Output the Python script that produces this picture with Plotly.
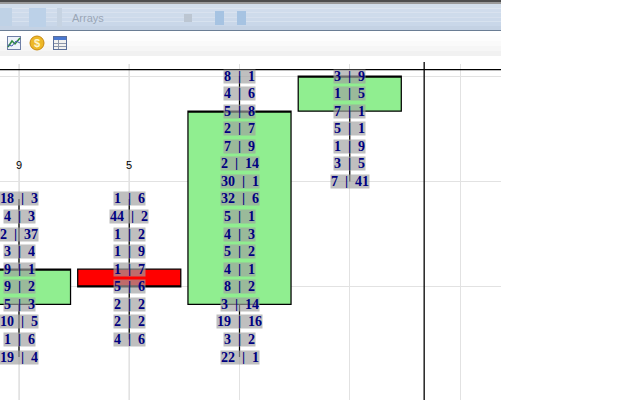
import plotly.graph_objects as go

# ---- data ----
bar_index = [0, 1, 2, 3]
opens = [3, 5, 3, 14]
closes = [5, 4, 14, 16]
highs = [9, 9, 16, 16]
lows = [0, 1, 0, 10]

top_levels = [9, 9, 16, 16]
bid_ask = [
    [(18, 3), (4, 3), (2, 37), (3, 4), (9, 1), (9, 2), (5, 3), (10, 5), (1, 6), (19, 4)],
    [(1, 6), (44, 2), (1, 2), (1, 9), (1, 7), (5, 6), (2, 2), (2, 2), (4, 6)],
    [(8, 1), (4, 6), (5, 8), (2, 7), (7, 9), (2, 14), (30, 1), (32, 6), (5, 1), (4, 3),
     (5, 2), (4, 1), (8, 2), (3, 14), (19, 16), (3, 2), (22, 1)],
    [(3, 9), (1, 5), (7, 1), (5, 1), (1, 9), (3, 5), (7, 41)],
]
count_labels = ["9", "5"]
count_level = 10.93
cross_x = 3.675
cross_y = 16.37
x_grid = [0, 1, 2, 3, 4]
y_grid = [4, 10, 16]

# ---- canvas ----
W, H = 640, 400
PL, PT, PR = 501, 64, 139


def px(x):
    return x / PL


def py(y):
    return (H - y) / (H - PT)


def rect(x0, y0, x1, y1, color):
    return dict(type="rect", xref="paper", yref="paper", x0=px(x0), x1=px(x1),
                y0=py(y0), y1=py(y1), fillcolor=color, line_width=0, layer="below")


def poly(points, color, width=1):
    d = "M" + " L".join(f"{px(a):.5f},{py(b):.5f}" for a, b in points)
    return dict(type="path", xref="paper", yref="paper", path=d,
                line=dict(color=color, width=width), layer="below")


fig = go.Figure()
fig.add_trace(go.Candlestick(
    x=bar_index, open=opens, high=highs, low=lows, close=closes,
    increasing=dict(fillcolor="#90ee90", line=dict(color="black", width=1.25)),
    decreasing=dict(fillcolor="#ff0000", line=dict(color="black", width=1.25)),
    whiskerwidth=0, hoverinfo="skip", showlegend=False,
))

ann = []
for i, rows in enumerate(bid_ask):
    for j, (b, a) in enumerate(rows):
        ann.append(dict(
            x=bar_index[i], y=top_levels[i] - j, xref="x", yref="y", showarrow=False,
            text=f"<b>{b}\u00a0\u00a0|\u00a0\u00a0{a}</b>",
            font=dict(family="Liberation Serif", size=14, color="#000080"),
            bgcolor="rgba(160,160,160,0.67)", borderpad=0, height=13,
        ))
for i, t in enumerate(count_labels):
    ann.append(dict(x=bar_index[i], y=count_level, xref="x", yref="y", showarrow=False,
                    text=t, font=dict(family="Liberation Sans", size=11, color="black")))

shapes = []
# window chrome
shapes.append(rect(0, 0, PL, 2, "#4d4d4d"))
shapes.append(rect(0, 2, PL, 4, "#9a9a9a"))
for k, c in enumerate(["#d2deeb", "#d0dcec", "#cedbeb", "#ccd9ea", "#c9d7e9", "#c4d2e4"]):
    shapes.append(rect(0, 4 + k * 4.4, PL, 4 + (k + 1) * 4.4, c))
shapes.append(rect(0, 30, PL, 31, "#6a7d94"))
for k, c in enumerate(["#ffffff", "#fdfdfd", "#fafafa", "#f6f6f6", "#f1f1f1"]):
    shapes.append(rect(0, 31 + k * 5, PL, 31 + (k + 1) * 5, c))
shapes.append(rect(0, 8, 12, 26, "#bfd2e6"))
shapes.append(rect(29, 8, 46, 27, "#bcd1e8"))
shapes.append(rect(57, 8, 62, 27, "#c6d3e2"))
shapes.append(rect(184, 14, 192, 22, "#bcc6d2"))
shapes.append(rect(215, 11, 224, 25, "#a6c3e2"))
shapes.append(rect(237, 11, 246, 25, "#a6c3e2"))
# toolbar icons
shapes.append(rect(7, 36, 21, 50, "#6f7fa6"))
shapes.append(rect(8, 37, 20, 49, "#eef3fa"))
shapes.append(poly([(8, 47), (12, 41), (15, 44), (20, 38)], "#2e8b3d", 1.5))
shapes.append(poly([(8, 45), (12, 46), (16, 41), (20, 43)], "#4a5fb0", 1))
shapes.append(dict(type="circle", xref="paper", yref="paper", x0=px(30), x1=px(44), y0=py(36), y1=py(50),
                   fillcolor="#edb828", line=dict(color="#c98a10", width=1), layer="below"))
shapes.append(rect(53, 36, 67, 50, "#5a6f9a"))
shapes.append(rect(54, 37, 66, 40, "#4a78d0"))
shapes.append(rect(54, 40, 66, 49, "#f2f2f0"))
for yy in (43, 46):
    shapes.append(rect(54, yy, 66, yy + 1, "#8d97ab"))
shapes.append(rect(58, 40, 59, 49, "#8d97ab"))
# grid darker overlays and crosshair
shapes.append(dict(type="line", xref="x", yref="paper", x0=0, x1=0, y0=0, y1=1,
                   line=dict(color="#d2d2d2", width=1), layer="below"))
shapes.append(dict(type="line", xref="x", yref="paper", x0=1, x1=1, y0=0, y1=1,
                   line=dict(color="#b4b4b4", width=1), layer="below"))
shapes.append(dict(type="line", xref="paper", yref="y", x0=0, x1=1, y0=cross_y, y1=cross_y,
                   line=dict(color="black", width=1.3), layer="above"))
shapes.append(dict(type="line", xref="x", yref="paper", x0=cross_x, x1=cross_x, y0=0, y1=1.006,
                   line=dict(color="black", width=1.3), layer="above"))

row = 17.56
y_bottom = (357 - 400) / row
y_top = (357 - 64) / row
step = 110.25
x_left = -19 / step
x_right = (PL - 19) / step

fig.update_layout(
    width=W, height=H, margin=dict(l=0, r=PR, t=PT, b=0, pad=0),
    paper_bgcolor="white", plot_bgcolor="white", boxgap=0.065, boxgroupgap=0,
    xaxis=dict(range=[x_left, x_right], tickvals=x_grid, showticklabels=False, ticks="",
               showgrid=True, gridcolor="#e2e2e2", gridwidth=1, zeroline=False, showline=False,
               rangeslider=dict(visible=False), fixedrange=True),
    yaxis=dict(range=[y_bottom, y_top], tickvals=y_grid, showticklabels=False, ticks="",
               showgrid=True, gridcolor="#e2e2e2", gridwidth=1, zeroline=False, showline=False,
               fixedrange=True),
    annotations=ann, shapes=shapes, showlegend=False,
)
fig.add_annotation(x=px(88), y=py(18), xref="paper", yref="paper", showarrow=False, text="Arrays",
                   xanchor="center", yanchor="middle",
                   font=dict(family="Liberation Sans", size=11, color="#9aa6b6"))
fig.add_annotation(x=px(37), y=py(43), xref="paper", yref="paper", showarrow=False, text="<b>$</b>",
                   xanchor="center", yanchor="middle",
                   font=dict(family="Liberation Sans", size=11, color="#fff6cc"))

fig.write_html("out.html", config={"displayModeBar": False},
               post_script="document.body.style.margin='0';")
